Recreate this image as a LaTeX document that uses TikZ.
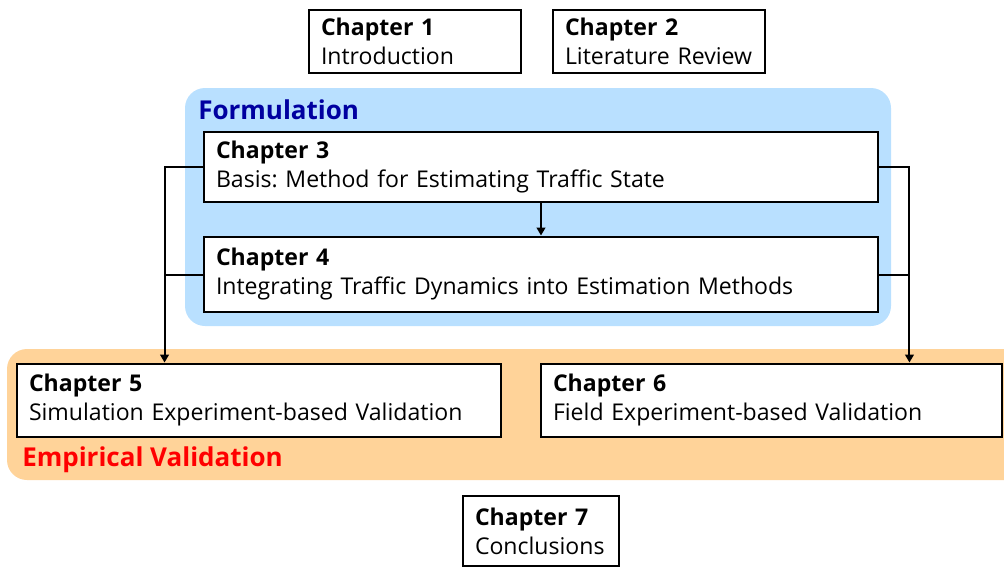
\documentclass[tikz,border=0pt]{standalone}
\usepackage{fontspec}
\setmainfont{Open Sans}
\usetikzlibrary{arrows.meta}
\definecolor{formblue}{RGB}{185,224,255}
\definecolor{formtitle}{RGB}{0,0,160}
\definecolor{empiorange}{RGB}{255,211,153}
\definecolor{empititle}{RGB}{255,0,0}
\frenchspacing
\begin{document}
\begin{tikzpicture}[x=0.75pt,y=-0.75pt]
    \tikzset{
      chapbox/.style={draw=black,line width=2.2pt,fill=white,align=left,
        inner xsep=9pt,inner ysep=2pt,font=\fontsize{17.3}{21.75}\selectfont},
      conn/.style={black,line width=1.5pt},
      arr/.style={conn,-{Triangle[length=6pt,width=6.5pt]}},
      region/.style={rounded corners=15pt},
      regiontitle/.style={font=\fontsize{19.5}{22}\selectfont\bfseries,anchor=west,inner sep=0pt}
    }
        \useasboundingbox (0,0) rectangle (1004,568);
        %REGIONS
        \fill[formblue,region] (185,88) rectangle (891,326);
        \fill[empiorange,region] (7,349) rectangle (1030,480);
        \node[regiontitle,formtitle] (form) at (198,110) {Formulation};
        \node[regiontitle,empititle] (empi) at (22,460) {Empirical Validation};

        %CHAPTERS
        \node[chapbox,text width=141pt,minimum height=47.25pt] (ch1) at (415,41.5)
          {\textbf{Chapter 1}\\Introduction};
        \node[chapbox,text width=141pt,minimum height=47.25pt] (ch2) at (659,41.5)
          {\textbf{Chapter 2}\\Literature Review};
        \node[chapbox,text width=487.5pt,minimum height=52.5pt] (ch3) at (541,167)
          {\textbf{Chapter 3}\\Basis: Method for Estimating Traffic State};
        \node[chapbox,text width=487.5pt,minimum height=56.25pt] (ch4) at (541,274.5)
          {\textbf{Chapter 4}\\Integrating Traffic Dynamics into Estimation Methods};
        \node[chapbox,text width=345pt,minimum height=54.75pt] (ch5) at (259,400.5)
          {\textbf{Chapter 5}\\Simulation Experiment-based Validation};
        \node[chapbox,text width=327.75pt,minimum height=54.75pt] (ch6) at (771.5,400.5)
          {\textbf{Chapter 6}\\Field Experiment-based Validation};
        \node[chapbox,text width=99pt,minimum height=52.5pt] (ch7) at (541,531)
          {\textbf{Chapter 7}\\Conclusions};

        %CONNECTORS
        \draw[arr] (ch3.south) -- (ch4.north);
        \draw[conn] (ch3.west) -- ++(-38,0) coordinate (left) |- (ch4.west);
        \draw[arr] (left) -- (left |- ch5.north);
        \draw[conn] (ch3.east) -- ++(30,0) coordinate (right) |- (ch4.east);
        \draw[arr] (right) -- (right |- ch6.north);
\end{tikzpicture}
\end{document}
